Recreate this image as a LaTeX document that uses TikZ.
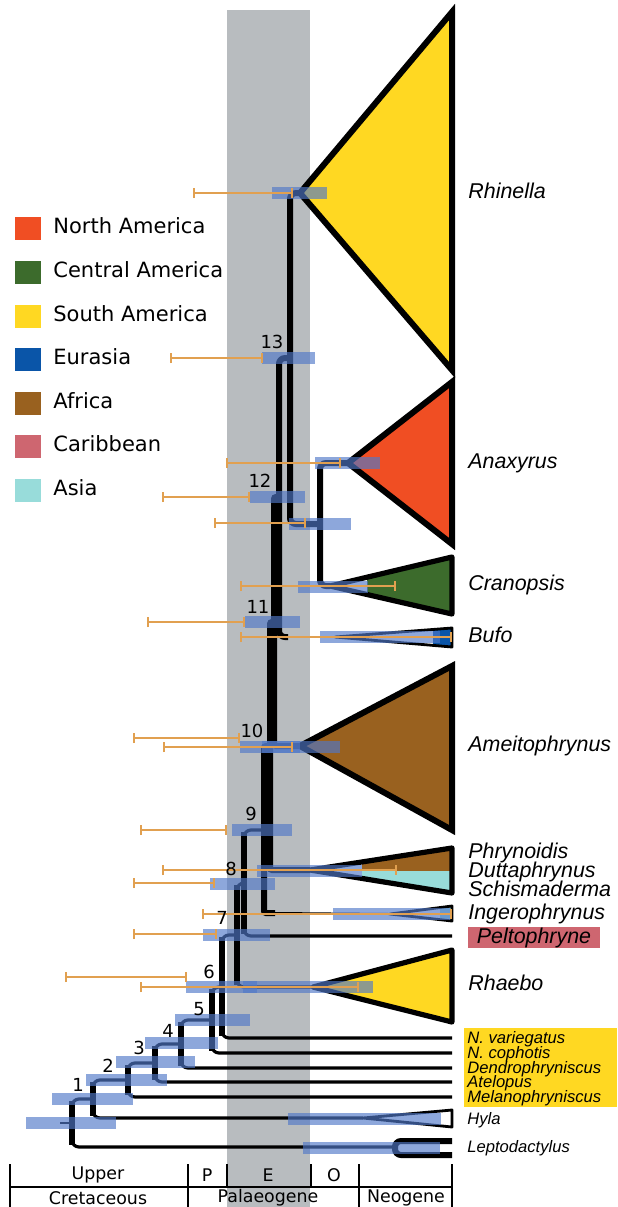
\documentclass[tikz,border=0pt]{standalone}
\usepackage{fontspec}
\setmainfont{Liberation Sans}
\newfontfamily\dejavu{DejaVu Sans}
\usetikzlibrary{arrows.meta,calc}
\definecolor{cNA}{RGB}{240,78,35}
\definecolor{cCA}{RGB}{60,107,44}
\definecolor{cSA}{RGB}{255,216,34}
\definecolor{cEU}{RGB}{10,85,168}
\definecolor{cAF}{RGB}{153,97,31}
\definecolor{cCB}{RGB}{206,102,112}
\definecolor{cAS}{RGB}{152,220,218}
\definecolor{bandgrey}{RGB}{184,188,191}
\definecolor{barblue}{RGB}{80,120,200}
\definecolor{errc}{RGB}{225,160,80}
\tikzset{
  fork/.style={line width=3pt, rounded corners=3pt},
  forkthin/.style={line width=1.6pt, rounded corners=3.5pt},
  vert/.style={line width=3pt},
  trunk/.style={line width=3pt, rounded corners=1pt},
  tipline/.style={line width=1.6pt},
  thinbr/.style={line width=1pt},
  bigtri/.style={line width=3pt, line join=miter, miter limit=4},
  midtri/.style={line width=2.6pt, line join=round},
  thintri/.style={line width=1.4pt, line join=round},
  hpd/.style={fill=barblue, fill opacity=0.65},
  eb/.style={draw=errc, line width=1.1pt, arrows={Bar[width=5pt]-Bar[width=5pt]}},
  taxon/.style={anchor=mid west, inner sep=0pt, font=\fontsize{10.7}{12}\selectfont\itshape},
  smalltaxon/.style={anchor=mid west, inner sep=0pt, font=\fontsize{8.3}{9}\selectfont\itshape},
  nodenum/.style={inner sep=0pt, font=\dejavu\fontsize{9}{10}\selectfont},
  legtext/.style={anchor=mid west, inner sep=0pt, font=\dejavu\fontsize{10.5}{12}\selectfont},
  legbox/.style={minimum width=13pt, minimum height=11.5pt, inner sep=0pt},
  scaletext/.style={inner sep=0pt, font=\dejavu\fontsize{8.7}{10}\selectfont},
  scaleline/.style={line width=1pt}
}
\newcommand\hpdbar[3]{\fill[hpd] (#1,#3-6) rectangle (#2,#3+6);}
\newcommand\errbar[3]{\draw[eb] (#1,#3) -- (#2,#3);}
% fork with thin horizontals and a thick vertical: node, top child, bottom child
\newcommand\thinfork[3]{%
  \draw[forkthin] (#2) -- (#1 |- #2) -- (#1 |- #3) -- (#3);
  \draw[vert] ($(#1 |- #2)+(0,2)$) -- ($(#1 |- #3)+(0,-2)$);}
\begin{document}
\begin{tikzpicture}[x=0.5pt,y=-0.5pt]
\useasboundingbox (0,0) rectangle (617,1207);
\fill[white] (0,0) rectangle (617,1207);
% Palaeogene / Eocene band
\fill[bandgrey] (227,10) rectangle (310,1207);

% ---------- clade triangles ----------
\filldraw[bigtri, fill=cSA] (300,193) -- (452,12) -- (452,370) -- cycle;
\filldraw[bigtri, fill=cNA] (348,463) -- (452,382) -- (452,544) -- cycle;
\begin{scope}
  \clip (330,586) -- (452,557) -- (452,614) -- cycle;
  \fill[cCA] (367,540) rectangle (460,630);
\end{scope}
\draw[midtri] (330,586) -- (452,557) -- (452,614) -- cycle;
\begin{scope}
  \clip (335,637) -- (452,628) -- (452,647) -- cycle;
  \fill[cEU] (433,620) rectangle (460,655);
\end{scope}
\draw[thintri] (335,637) -- (452,628) -- (452,647) -- cycle;
\filldraw[bigtri, fill=cAF] (300,746) -- (452,666) -- (452,830) -- cycle;
\begin{scope}
  \clip (310,870) -- (452,848) -- (452,893) -- cycle;
  \fill[cAF] (362,840) rectangle (460,871);
  \fill[cAS] (362,871) rectangle (460,900);
\end{scope}
\draw[midtri] (310,870) -- (452,848) -- (452,893) -- cycle;
\begin{scope}
  \clip (390,914) -- (452,906) -- (452,921) -- cycle;
  \fill[cAS] (440,900) rectangle (460,930);
\end{scope}
\draw[thintri] (390,914) -- (452,906) -- (452,921) -- cycle;
\filldraw[midtri, fill=cSA] (313,987) -- (452,950) -- (452,1022) -- cycle;
\draw[thintri] (363,1118) -- (452,1110) -- (452,1127) -- cycle;
\draw[line width=3pt, rounded corners=3pt] (452,1141) -- (395,1141) -- (395,1155) -- (452,1155);

% ---------- tips and nodes ----------
\coordinate (tRhi) at (300,193);
\coordinate (tAna) at (348,463);
\coordinate (tCra) at (330,586);
\coordinate (tBufJ) at (288,637);
\coordinate (tBuf) at (335,637);
\coordinate (tAme) at (300,746);
\coordinate (tPhr) at (310,870);
\coordinate (tIngJ) at (275,913);
\coordinate (tIng) at (390,914);
\coordinate (tPelt) at (452,936);
\coordinate (tRha) at (313,987);
\coordinate (tNva) at (452,1038);
\coordinate (tNco) at (452,1053);
\coordinate (tDen) at (452,1068);
\coordinate (tAte) at (452,1082);
\coordinate (tMel) at (452,1097);
\coordinate (tHyl) at (363,1118);
\coordinate (tLep) at (395,1147);

\coordinate (nX) at (320,524);
\coordinate (n13) at (290,358);
\coordinate (n12) at (279,497);
\coordinate (n11) at (274,622);
\coordinate (n10) at (270,746);
\coordinate (n9) at (264,830);
\coordinate (n8) at (244,883);
\coordinate (n7) at (237,935);
\coordinate (n6) at (222,987);
\coordinate (n5) at (212,1020);
\coordinate (n4) at (181,1044);
\coordinate (n3) at (155,1063);
\coordinate (n2) at (128,1080);
\coordinate (n1) at (93,1099);
\coordinate (n0) at (72,1123);
\coordinate (stub) at (60,1123);

% ---------- branches ----------
\draw[fork] (tAna) -- (nX |- tAna) -- (nX |- tCra) -- (tCra);
\draw[fork] (tRhi) -- (n13 |- tRhi) -- (n13 |- nX) -- (nX);
\draw[fork] (n13) -- (n12 |- n13) -- (n12 |- tBufJ) -- (tBufJ);
\draw[thinbr] (tBufJ) -- (tBuf);
\draw[trunk] (n12) -- (n11 |- n12) -- (n11 |- tAme) -- (tAme);
\draw[trunk] (n11) -- (n10 |- n11) -- (n10 |- tPhr) -- (tPhr);
\draw[trunk] (n10) -- (n9 |- n10) -- (n9 |- tIngJ) -- (tIngJ);
\draw[thinbr] (tIngJ) -- (tIng);
\thinfork{n8}{n9}{tPelt}
\thinfork{n7}{n8}{tRha}
\thinfork{n6}{n7}{tNva}
\thinfork{n5}{n6}{tNco}
\thinfork{n4}{n5}{tDen}
\thinfork{n3}{n4}{tAte}
\thinfork{n2}{n3}{tMel}
\thinfork{n1}{n2}{tHyl}
\thinfork{n0}{n1}{tLep}
\draw[line width=0.9pt] (stub) -- (n0);

% ---------- 95% HPD bars ----------
\hpdbar{272}{327}{193}
\hpdbar{262}{315}{358}
\hpdbar{315}{380}{463}
\hpdbar{250}{305}{497}
\hpdbar{289}{351}{524}
\hpdbar{298}{368}{587}
\hpdbar{245}{300}{622}
\hpdbar{320}{440}{637}
\hpdbar{240}{300}{747}
\hpdbar{262}{340}{747}
\hpdbar{232}{292}{830}
\hpdbar{257}{362}{871}
\hpdbar{210}{275}{884}
\hpdbar{333}{450}{914}
\hpdbar{203}{270}{935}
\hpdbar{186}{257}{987}
\hpdbar{243}{373}{987}
\hpdbar{175}{250}{1020}
\hpdbar{145}{218}{1043}
\hpdbar{116}{195}{1062}
\hpdbar{86}{167}{1080}
\hpdbar{52}{133}{1099}
\hpdbar{26}{116}{1123}
\hpdbar{288}{441}{1119}
\hpdbar{303}{440}{1148}

% ---------- error bars ----------
\errbar{193}{293}{193}
\errbar{170}{263}{358}
\errbar{226}{341}{463}
\errbar{162}{250}{497}
\errbar{214}{306}{523}
\errbar{240}{396}{586}
\errbar{147}{245}{622}
\errbar{240}{452}{637}
\errbar{133}{240}{738}
\errbar{163}{293}{747}
\errbar{140}{227}{830}
\errbar{162}{397}{870}
\errbar{133}{215}{883}
\errbar{202}{452}{914}
\errbar{133}{217}{934}
\errbar{65}{187}{977}
\errbar{140}{359}{987}

% ---------- node numbers ----------
\node[nodenum] (k1) at (78,1085) {1};
\node[nodenum] (k2) at (108,1066) {2};
\node[nodenum] (k3) at (139,1048) {3};
\node[nodenum] (k4) at (168,1031) {4};
\node[nodenum] (k5) at (199,1009) {5};
\node[nodenum] (k6) at (209,972) {6};
\node[nodenum] (k7) at (222,918) {7};
\node[nodenum] (k8) at (231,869) {8};
\node[nodenum] (k9) at (251,814) {9};
\node[nodenum] (k10) at (252,731) {10};
\node[nodenum] (k11) at (258,607) {11};
\node[nodenum] (k12) at (260,481) {12};
\node[nodenum] (k13) at (272,342) {13};

% ---------- taxon labels ----------
\node[taxon] (lRhi) at (468,193) {Rhinella};
\node[taxon] (lAna) at (468,463) {Anaxyrus};
\node[taxon] (lCra) at (468,585) {Cranopsis};
\node[taxon] (lBuf) at (468,637) {Bufo};
\node[taxon] (lAme) at (468,746) {Ameitophrynus};
\node[taxon] (lPhr) at (468,853) {Phrynoidis};
\node[taxon] (lDut) at (468,872) {Duttaphrynus};
\node[taxon] (lSch) at (468,891) {Schismaderma};
\node[taxon] (lIng) at (468,914) {Ingerophrynus};
\node[fill=cCB, minimum width=66pt, minimum height=10.5pt, inner sep=0pt,
      font=\fontsize{10.7}{12}\selectfont\itshape] (lPel) at (534,937.5) {Peltophryne};
\node[taxon] (lRha) at (468,985) {Rhaebo};
\fill[cSA] (464,1028) rectangle (617,1107);
\node[smalltaxon] (lNva) at (467,1038) {N. variegatus};
\node[smalltaxon] (lNco) at (467,1053) {N. cophotis};
\node[smalltaxon] (lDen) at (467,1068) {Dendrophryniscus};
\node[smalltaxon] (lAte) at (467,1082) {Atelopus};
\node[smalltaxon] (lMel) at (467,1097) {Melanophryniscus};
\node[smalltaxon] (lHyl) at (467,1119) {Hyla};
\node[smalltaxon] (lLep) at (467,1147) {Leptodactylus};

% ---------- legend ----------
\node[legbox, fill=cNA] (sqNA) at (28,228) {};
\node[legtext] (txNA) at (53,228) {North America};
\node[legbox, fill=cCA] (sqCA) at (28,272) {};
\node[legtext] (txCA) at (53,272) {Central America};
\node[legbox, fill=cSA] (sqSA) at (28,316) {};
\node[legtext] (txSA) at (53,316) {South America};
\node[legbox, fill=cEU] (sqEU) at (28,359) {};
\node[legtext] (txEU) at (53,359) {Eurasia};
\node[legbox, fill=cAF] (sqAF) at (28,403) {};
\node[legtext] (txAF) at (53,403) {Africa};
\node[legbox, fill=cCB] (sqCB) at (28,446) {};
\node[legtext] (txCB) at (53,446) {Caribbean};
\node[legbox, fill=cAS] (sqAS) at (28,490) {};
\node[legtext] (txAS) at (53,490) {Asia};

% ---------- time scale ----------
\draw[scaleline] (10,1187) -- (452,1187);
\draw[scaleline] (10,1164) -- (10,1207);
\draw[scaleline] (188,1164) -- (188,1207);
\draw[scaleline] (227,1164) -- (227,1187);
\draw[scaleline] (311,1164) -- (311,1187);
\draw[scaleline] (359,1164) -- (359,1207);
\draw[scaleline] (452,1164) -- (452,1207);
\node[scaletext] (sUp) at (98,1175) {Upper};
\node[scaletext] (sP) at (207,1175) {P};
\node[scaletext] (sE) at (268,1175) {E};
\node[scaletext] (sO) at (334,1175) {O};
\node[scaletext] (sCr) at (98,1198) {Cretaceous};
\node[scaletext] (sPa) at (268,1198) {Palaeogene};
\node[scaletext] (sNe) at (406,1198) {Neogene};
\end{tikzpicture}
\end{document}
